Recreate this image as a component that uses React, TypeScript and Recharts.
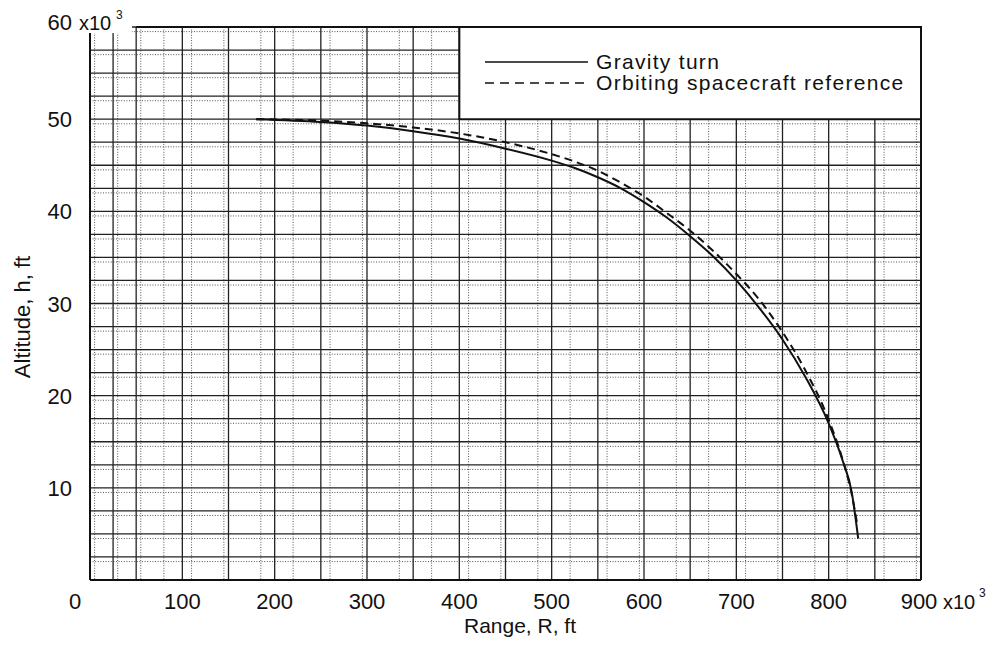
import { LineChart, Line, XAxis, YAxis, CartesianGrid, ReferenceArea, ReferenceLine, Legend } from 'recharts'

// range R (x10^3 ft) vs altitude h (x10^3 ft)
const gravityR = [180, 250, 300, 350, 400, 450, 500, 525, 550, 575, 600, 625, 650, 675, 700, 725, 750, 775, 800, 815, 825, 832]
const gravityH = [50, 49.7, 49.3, 48.7, 47.9, 46.8, 45.5, 44.7, 43.7, 42.5, 41.0, 39.3, 37.3, 35.1, 32.5, 29.5, 26.1, 22.0, 17.0, 13.0, 9.5, 4.5]

const orbitR = [180, 250, 300, 350, 400, 450, 500, 525, 550, 575, 600, 625, 650, 675, 700, 725, 750, 775, 800, 815, 825, 831]
const orbitH = [50, 49.85, 49.55, 49.1, 48.45, 47.5, 46.2, 45.4, 44.4, 43.1, 41.6, 39.8, 37.9, 35.7, 33.2, 30.4, 26.9, 22.7, 17.4, 13.1, 9.3, 6.0]

const xTicks = [0, 100, 200, 300, 400, 500, 600, 700, 800, 900]
const yTicks = [10, 20, 30, 40, 50, 60]

const FONT = '"Liberation Sans", Arial, sans-serif'
const INK = '#111'

const gravityData = gravityR.map((r, i) => ({ R: r, h: gravityH[i] }))
const orbitData = orbitR.map((r, i) => ({ R: r, h: orbitH[i] }))

// graph paper lines
const majorX: number[] = []
for (let v = 0; v <= 900; v += 25) majorX.push(v)
const majorY: number[] = []
for (let v = 0; v <= 60; v += 2.5) majorY.push(v)
const fineX: number[] = []
for (let v = 0; v <= 900; v += 5) if (v % 25 !== 0) fineX.push(v)
const fineY: number[] = []
for (let v = 0; v <= 60; v += 0.5) if (v % 2.5 !== 0) fineY.push(v)

function XTick(props: any) {
  const { x, y, payload } = props
  const v = payload.value
  if (v === 0) {
    return <text x={x - 15} y={y + 21} textAnchor="middle" fontSize={22} fontFamily={FONT} fill={INK}>0</text>
  }
  if (v === 900) {
    return (
      <g>
        <text x={x - 2} y={y + 21} textAnchor="middle" fontSize={22} fontFamily={FONT} fill={INK}>900</text>
        <text x={x + 22} y={y + 21} textAnchor="start" fontSize={20} fontFamily={FONT} fill={INK}>x10</text>
        <text x={x + 58} y={y + 9} textAnchor="start" fontSize={12} fontFamily={FONT} fill={INK}>3</text>
      </g>
    )
  }
  return <text x={x} y={y + 21} textAnchor="middle" fontSize={22} fontFamily={FONT} fill={INK}>{v}</text>
}

function YTick(props: any) {
  const { x, y, payload } = props
  const v = payload.value
  if (v === 60) {
    return (
      <g>
        <rect x={x - 8} y={y - 20} width={58} height={26} fill="#fff" />
        <text x={x - 10} y={y + 3} textAnchor="end" fontSize={22} fontFamily={FONT} fill={INK}>60</text>
        <text x={x - 3} y={y + 3} textAnchor="start" fontSize={20} fontFamily={FONT} fill={INK}>x10</text>
        <text x={x + 34} y={y - 8} textAnchor="start" fontSize={12} fontFamily={FONT} fill={INK}>3</text>
      </g>
    )
  }
  return <text x={x - 10} y={y + 8} textAnchor="end" fontSize={22} fontFamily={FONT} fill={INK}>{v}</text>
}

function LegendBox() {
  return (
    <svg width={440} height={60} style={{ display: 'block' }}>
      <line x1={5} y1={17} x2={108} y2={17} stroke={INK} strokeWidth={1.6} />
      <text x={116} y={24} fontSize={21} letterSpacing={1.3} fontFamily={FONT} fill={INK}>Gravity turn</text>
      <line x1={5} y1={38} x2={108} y2={38} stroke={INK} strokeWidth={1.6} strokeDasharray="9 6" />
      <text x={116} y={45} fontSize={21} letterSpacing={1.3} fontFamily={FONT} fill={INK}>Orbiting spacecraft reference</text>
    </svg>
  )
}

export default function App() {
  return (
    <div style={{ position: 'absolute', left: 0, top: 0, width: 995, height: 645, background: '#fff' }}>
      <LineChart width={995} height={645} margin={{ top: 27, right: 74, bottom: 0, left: 0 }}>
        <CartesianGrid horizontalValues={fineY} verticalValues={fineX} stroke="#555" strokeWidth={1} strokeDasharray="1 1.6" />
        <CartesianGrid horizontalValues={majorY} verticalValues={majorX} stroke="#222" strokeWidth={1.3} />
        <XAxis
          type="number"
          dataKey="R"
          domain={[0, 900]}
          ticks={xTicks}
          tick={<XTick />}
          tickLine={false}
          axisLine={{ stroke: INK, strokeWidth: 2 }}
          height={65}
          allowDataOverflow
          label={{
            content: () => (
              <text x={520} y={633} textAnchor="middle" fontSize={21} fontFamily={FONT} fill={INK}>
                Range, R, ft
              </text>
            ),
          }}
        />
        <YAxis
          type="number"
          domain={[0, 60]}
          ticks={yTicks}
          tick={<YTick />}
          tickLine={false}
          axisLine={{ stroke: INK, strokeWidth: 2 }}
          width={90}
          allowDataOverflow
          label={{
            content: () => (
              <text x={30} y={317} transform="rotate(-90 30 317)" textAnchor="middle" fontSize={22} fontFamily={FONT} fill={INK}>
                Altitude, h, ft
              </text>
            ),
          }}
        />
        <ReferenceLine x={900} stroke={INK} strokeWidth={2} />
        <ReferenceLine segment={[{ x: 50, y: 60 }, { x: 900, y: 60 }]} stroke={INK} strokeWidth={2} />
        <ReferenceArea x1={400} x2={900} y1={50} y2={60} fill="#fff" fillOpacity={1} stroke={INK} strokeWidth={2} />
        <Line data={gravityData} dataKey="h" type="monotone" stroke={INK} strokeWidth={2} dot={false} isAnimationActive={false} />
        <Line data={orbitData} dataKey="h" type="monotone" stroke={INK} strokeWidth={2} strokeDasharray="8 5" dot={false} isAnimationActive={false} />
        <Legend
          layout="horizontal"
          verticalAlign="middle"
          align="center"
          content={() => <LegendBox />}
          wrapperStyle={{ left: 480, top: 45, width: 440, height: 60 }}
        />
      </LineChart>
    </div>
  )
}
